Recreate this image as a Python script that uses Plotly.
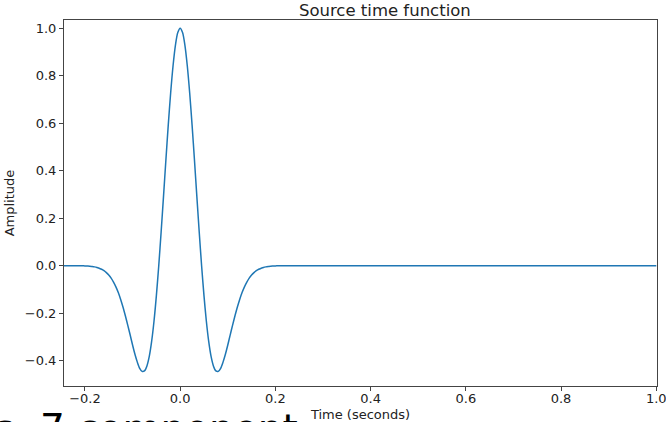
import plotly.graph_objects as go

# Ricker-style source wavelet, sampled in seconds
time_s = [
    -0.25, -0.24, -0.23, -0.22, -0.21,
    -0.200, -0.195, -0.190, -0.185, -0.180, -0.175, -0.170, -0.165, -0.160, -0.155,
    -0.150, -0.145, -0.140, -0.135, -0.130, -0.125, -0.120, -0.115, -0.110, -0.105,
    -0.100, -0.095, -0.090, -0.085, -0.080, -0.075, -0.070, -0.065, -0.060, -0.055,
    -0.050, -0.045, -0.040, -0.035, -0.030, -0.025, -0.020, -0.015, -0.010, -0.005,
    0.000,
    0.005, 0.010, 0.015, 0.020, 0.025, 0.030, 0.035, 0.040, 0.045, 0.050,
    0.055, 0.060, 0.065, 0.070, 0.075, 0.080, 0.085, 0.090, 0.095, 0.100,
    0.105, 0.110, 0.115, 0.120, 0.125, 0.130, 0.135, 0.140, 0.145, 0.150,
    0.155, 0.160, 0.165, 0.170, 0.175, 0.180, 0.185, 0.190, 0.195, 0.200,
    0.21, 0.22, 0.23, 0.24, 0.25, 0.30, 0.40, 0.50, 0.60, 0.70, 0.80, 0.90, 1.00,
]
amplitude = [
    0.000, 0.000, 0.000, 0.000, 0.000,
    -0.001, -0.0015, -0.002, -0.0034, -0.005, -0.0074, -0.011, -0.015, -0.021, -0.029,
    -0.039, -0.052, -0.069, -0.089, -0.113, -0.142, -0.175, -0.212, -0.251, -0.292,
    -0.334, -0.373, -0.406, -0.432, -0.445, -0.443, -0.423, -0.383, -0.320, -0.234,
    -0.126, 0.000, 0.142, 0.292, 0.445, 0.593, 0.727, 0.841, 0.928, 0.982,
    1.000,
    0.982, 0.928, 0.841, 0.727, 0.593, 0.445, 0.292, 0.142, 0.000, -0.126,
    -0.234, -0.320, -0.383, -0.423, -0.443, -0.445, -0.432, -0.406, -0.373, -0.334,
    -0.292, -0.251, -0.212, -0.175, -0.142, -0.113, -0.089, -0.069, -0.052, -0.039,
    -0.029, -0.021, -0.015, -0.011, -0.0074, -0.005, -0.0034, -0.002, -0.0015, -0.001,
    0.000, 0.000, 0.000, 0.000, 0.000, 0.000, 0.000, 0.000, 0.000, 0.000, 0.000, 0.000, 0.000,
]

x_ticks = [-0.2, 0.0, 0.2, 0.4, 0.6, 0.8, 1.0]
y_ticks = [-0.4, -0.2, 0.0, 0.2, 0.4, 0.6, 0.8, 1.0]

W, H = 666, 422
L, R, T, B = 64, 9.3, 20, 36

fig = go.Figure()
fig.add_trace(go.Scatter(
    x=time_s, y=amplitude, mode="lines",
    line=dict(color="#1f77b4", width=1.5, shape="spline", smoothing=0.8),
    showlegend=False, hoverinfo="skip",
))

axis_common = dict(
    showgrid=False, zeroline=False, showline=True, mirror=True,
    linecolor="#444444", linewidth=1,
    ticks="outside", ticklen=4, tickwidth=1, tickcolor="#444444",
    tickfont=dict(family="DejaVu Sans", size=13, color="#222222"),
    tickformat=".1f", ticklabeloverflow="allow",
)

fig.update_layout(
    width=W, height=H,
    margin=dict(l=L, r=R, t=T, b=B, pad=0),
    paper_bgcolor="white", plot_bgcolor="white",
    font=dict(family="DejaVu Sans", color="#222222"),
    title=dict(
        text="Source time function", x=(L + (W - R - L) / 2) / W, xanchor="center",
        xref="paper", y=1 - 10 / H, yref="container", yanchor="middle",
        font=dict(family="DejaVu Sans", size=16.5, color="#222222"),
    ),
    xaxis=dict(
        range=[-0.244, 1.0015], tickvals=x_ticks, ticklabelstandoff=-4,
        title=dict(text="Time (seconds)", standoff=6,
                   font=dict(family="DejaVu Sans", size=13, color="#222222")),
        automargin=False, **axis_common,
    ),
    yaxis=dict(
        range=[-0.5065, 1.0345], tickvals=y_ticks,
        title=dict(text="Amplitude", standoff=7,
                   font=dict(family="DejaVu Sans", size=13, color="#222222")),
        automargin=False, **axis_common,
    ),
)

# Large caption text running off the lower edge
plot_w = W - L - R
plot_h = H - T - B
fig.add_annotation(
    text="rs: 7 component", showarrow=False,
    xref="paper", yref="paper",
    x=(300 - L) / plot_w, xanchor="right",
    y=-(404 - (H - B)) / plot_h, yanchor="top",
    font=dict(family="DejaVu Sans", size=39, color="black"),
)

fig.write_html("out.html")
